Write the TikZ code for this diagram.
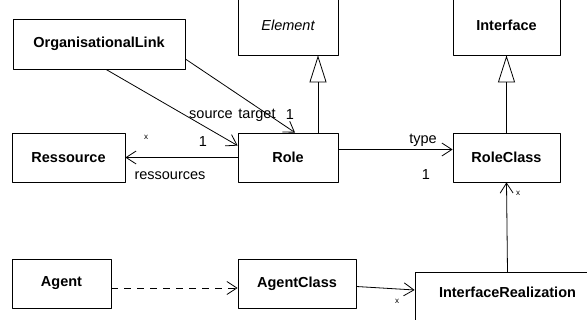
\documentclass[tikz,border=0pt]{standalone}
\usepackage{fontspec}
\setmainfont{Liberation Sans}
\usetikzlibrary{arrows.meta}
\tikzset{
	cls/.style={draw, rectangle, inner sep=0pt, minimum height=49pt, font=\fontsize{14.5}{17}\selectfont\bfseries},
	lbl/.style={inner sep=0pt, font=\fontsize{14.5}{17}\selectfont},
	mul/.style={inner sep=0pt, font=\fontsize{8}{8}\selectfont},
	nav/.style={draw, ->},
	gen/.style={-{Triangle[open, length=27pt, width=17pt]}}
}
\begin{document}
\begin{tikzpicture}[x=1pt, y=-1pt, line width=0.8pt, line join=round, >={Straight Barb[length=10pt, width=13pt]}]
			\clip (0,0) rectangle (587,320);
			\node[cls, minimum width=172pt, minimum height=50pt] (OL) at (99,44){OrganisationalLink};
			\node[cls, minimum width=100pt, minimum height=60pt, font=\fontsize{14.5}{17}\selectfont\itshape] (El) at (288,25){Element};
			\node[cls, minimum width=107pt, minimum height=60pt] (If) at (506.5,25){Interface};
			\node[cls, minimum width=113pt] (Res) at (68.5,157.5){Ressource};
			\node[cls, minimum width=100pt] (Role) at (288,157.5){Role};
			\node[cls, minimum width=107pt] (RC) at (506.5,157.5){RoleClass};
			\node[cls, minimum width=99pt] (Ag) at (61.5,283.5){Agent};
			\node[cls, minimum width=118pt] (AC) at (297,283.5){AgentClass};
			\node[cls, minimum width=185pt, inner ysep=15pt, text depth=30pt, anchor=north] (IR) at (507.5,272){InterfaceRealization};
			% association ends
			\node[lbl] (src) at (211,115){source};
			\node[lbl] (tgt) at (257,115){target};
			\node[lbl] (tgtm) at (290,115){1};
			\node[lbl] (srcm) at (203,142){1};
			\node[mul] (resm) at (146,137){x};
			\node[lbl] (res) at (170,176){ressources};
			\node[lbl] (typ) at (423,140){type};
			\node[lbl] (typm) at (426,175){1};
			\node[mul] (rcm) at (518,193){x};
			\node[mul] (irm) at (397,301){x};
			\path
			([xshift=7pt]OL.south) edge[nav] ([yshift=-13pt]Role.north west)
			([yshift=-15pt]OL.east) edge[nav] ([xshift=7pt]Role.north)
			(Role.west) edge[nav] (Res.east)
			([yshift=8pt]Role.east) edge[nav] ([yshift=8pt]RC.west)
			(IR.north) edge[nav] (RC.south)
			([yshift=-3pt]AC.east) edge[nav] ([yshift=-18pt]IR.north west)
			;
			\draw[->, dash pattern=on 7pt off 6pt] ([yshift=-4.5pt]Ag.east)--([yshift=-4.5pt]AC.west);
			\draw[gen] ([xshift=30pt]Role.north)--([xshift=30pt]El.south);
			\draw[gen] (RC.north)--(If.south);
		\end{tikzpicture}
\end{document}
